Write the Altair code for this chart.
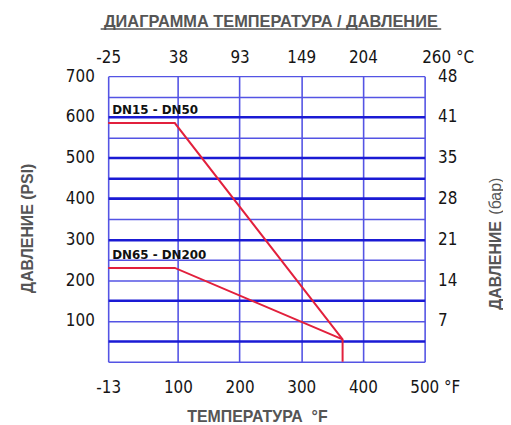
import altair as alt
import pandas as pd

# ---------------- data ----------------
temp_f_ticks = [-13, 100, 200, 300, 400, 500]
temp_f_labels = ["-13", "100", "200", "300", "400", "500 °F"]
temp_c_labels = ["-25", "38", "93", "149", "204", "260 °C"]
psi_ticks = [100, 200, 300, 400, 500, 600, 700]
bar_labels = ["7", "14", "21", "28", "35", "41", "48"]
grid_psi = list(range(0, 701, 50))
thick_psi = [50, 150, 300, 400, 450, 500, 600]

s1_name = "DN15 - DN50"
s1_temp = [-13, 95, 367, 367]
s1_psi = [585, 585, 55, 0]
s2_name = "DN65 - DN200"
s2_temp = [-13, 95, 367]
s2_psi = [230, 230, 55]

title_text = "ДИАГРАММА ТЕМПЕРАТУРА / ДАВЛЕНИЕ"
x_title = "ТЕМПЕРАТУРА\u00a0\u00a0°F"
y_title = "ДАВЛЕНИЕ (PSI)"
y2_title_bold = "ДАВЛЕНИЕ"
y2_title_reg = "(бар)"

# ---------------- tables ----------------
rows = []
for name, ts, ps in [(s1_name, s1_temp, s1_psi), (s2_name, s2_temp, s2_psi)]:
    for i, (t, p) in enumerate(zip(ts, ps)):
        rows.append({"series": name, "temp": t, "psi": p, "order": i})
lines_df = pd.DataFrame(rows)
labels_df = pd.DataFrame({
    "series": [s1_name, s2_name],
    "temp": [s1_temp[0], s2_temp[0]],
    "psi": [s1_psi[0], s2_psi[0]],
})


def mk_expr(ticks, labels):
    expr = "''"
    for t, l in reversed(list(zip(ticks, labels))):
        expr = f"datum.value == {t} ? '{l}' : ({expr})"
    return expr


TICK_FONT = "DejaVu Sans Condensed, Liberation Sans, Arial"
TICK_SIZE = 17
TICK_COLOR = "#151515"
TITLE_FONT = "Liberation Sans, Arial"
GRID_THIN = "#5454e4"
GRID_THICK = "#1a1ad4"
RED = "#e2203c"
GREY = "#555555"

xscale = alt.Scale(domain=[-13, 500], nice=False, zero=False)
yscale = alt.Scale(domain=[0, 700], nice=False, zero=False)

thick_arr = "[" + ",".join(str(v) for v in thick_psi) + "]"

x_bottom = alt.Axis(
    orient="bottom", values=temp_f_ticks, labelExpr=mk_expr(temp_f_ticks, temp_f_labels),
    grid=True, gridColor=GRID_THIN, gridWidth=1.6, ticks=False, domain=False,
    labelFlush=False, labelOverlap=False, labelFont=TICK_FONT, labelFontSize=TICK_SIZE,
    labelColor=TICK_COLOR, labelPadding=18,
    labelAlign={"condition": {"test": "datum.value == 500", "value": "left"}, "value": "center"},
    labelOffset={"condition": {"test": "datum.value == 500", "value": -15}, "value": 0},
    title=x_title, titleFont=TITLE_FONT, titleFontSize=16, titleFontWeight="bold",
    titleColor=GREY, titleX=150, titleY=60, titleBaseline="alphabetic",
)
y_left = alt.Axis(
    orient="left", values=grid_psi,
    labelExpr="indexof([" + ",".join(str(v) for v in psi_ticks) + "], datum.value) >= 0 ? ''+datum.value : ''",
    grid=True,
    gridColor={"condition": {"test": f"indexof({thick_arr}, datum.value) >= 0", "value": GRID_THICK}, "value": GRID_THIN},
    gridWidth={"condition": {"test": f"indexof({thick_arr}, datum.value) >= 0", "value": 2.6}, "value": 1.5},
    ticks=False, domain=False, labelOverlap=False, labelFlush=False,
    labelFont=TICK_FONT, labelFontSize=TICK_SIZE, labelColor=TICK_COLOR, labelPadding=14,
    title=y_title, titleFont=TITLE_FONT, titleFontSize=16, titleFontWeight="bold",
    titleColor=GREY, titleX=-76, titleY=153, titleBaseline="alphabetic", titleAngle=270,
)
x_top = alt.Axis(
    orient="top", values=temp_f_ticks, labelExpr=mk_expr(temp_f_ticks, temp_c_labels),
    grid=False, ticks=False, domain=False, labelFlush=False, labelOverlap=False,
    labelFont=TICK_FONT, labelFontSize=TICK_SIZE, labelColor=TICK_COLOR, labelPadding=10,
    labelAlign={"condition": {"test": "datum.value == 500", "value": "left"}, "value": "center"},
    labelOffset={"condition": {"test": "datum.value == 500", "value": -3}, "value": 0},
    title=None,
)
y_right = alt.Axis(
    orient="right", values=psi_ticks, labelExpr=mk_expr(psi_ticks, bar_labels),
    grid=False, ticks=False, domain=False, labelFlush=False, labelOverlap=False,
    labelFont=TICK_FONT, labelFontSize=TICK_SIZE, labelColor=TICK_COLOR, labelPadding=13,
    title=None,
)

lines = alt.Chart(lines_df).mark_line(color=RED, strokeWidth=2).encode(
    x=alt.X("temp:Q", scale=xscale, axis=x_bottom),
    y=alt.Y("psi:Q", scale=yscale, axis=y_left),
    detail="series:N",
    order="order:Q",
)

labels = alt.Chart(labels_df).mark_text(
    align="left", baseline="alphabetic", dx=4, dy=-9,
    font="DejaVu Sans", fontWeight="bold", fontSize=12, color="#111111",
).encode(
    x=alt.X("temp:Q", scale=xscale, axis=x_top),
    y=alt.Y("psi:Q", scale=yscale, axis=y_right),
    text="series:N",
)

title_df = pd.DataFrame({"t": [title_text]})
title = alt.Chart(title_df).mark_text(
    align="center", baseline="alphabetic", font=TITLE_FONT, fontWeight="bold",
    fontSize=16.5, color=GREY,
).encode(x=alt.value(164), y=alt.value(-50), text="t:N")
underline = alt.Chart(title_df).mark_rule(color=GREY, strokeWidth=1.5).encode(
    x=alt.value(-7.6), x2=alt.value(335.7), y=alt.value(-47.5)
)

r1 = alt.Chart(pd.DataFrame({"t": [y2_title_bold]})).mark_text(
    angle=270, align="center", baseline="alphabetic", font=TITLE_FONT,
    fontWeight="bold", fontSize=16, color=GREY,
).encode(x=alt.value(395.7), y=alt.value(191), text="t:N")
r2 = alt.Chart(pd.DataFrame({"t": [y2_title_reg]})).mark_text(
    angle=270, align="center", baseline="alphabetic", font=TITLE_FONT,
    fontWeight="normal", fontSize=16, color=GREY,
).encode(x=alt.value(395.7), y=alt.value(121), text="t:N")

chart = alt.layer(lines, labels, title, underline, r1, r2).resolve_axis(
    x="independent", y="independent"
).properties(
    width=319, height=288,
    autosize=alt.AutoSizeParams(type="none"),
    padding={"left": 101, "top": 67, "right": 79, "bottom": 62},
).configure_view(stroke=None)

chart.save("out.html", embed_options={"renderer": "svg", "actions": False})
